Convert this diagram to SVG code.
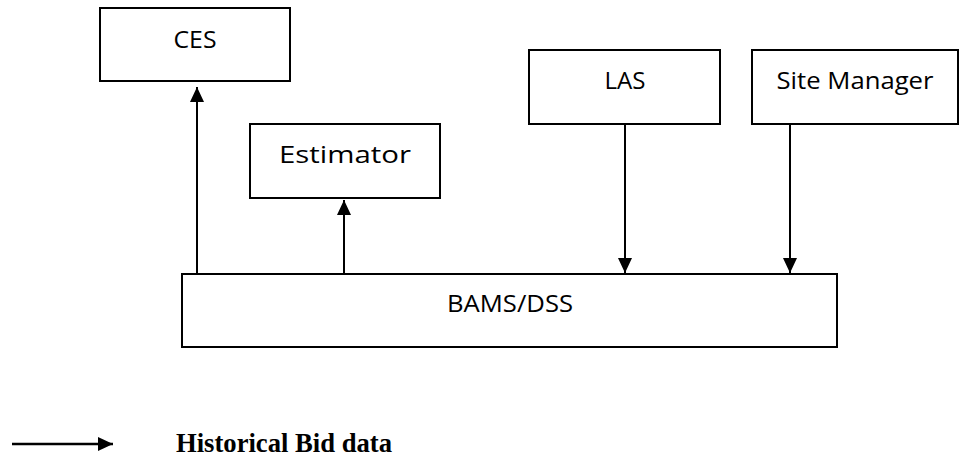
<svg xmlns="http://www.w3.org/2000/svg" width="961" height="457" viewBox="0 0 961 457">
<style>
.box{fill:#fff;stroke:#000;stroke-width:2}
.lbl{font-family:"Open Sans","Noto Sans",sans-serif;font-size:24px;fill:#000;text-anchor:middle}
.conn{stroke:#000;stroke-width:2;fill:none;marker-end:url(#ah)}
.legend{font-family:"Liberation Serif","Times New Roman",serif;font-weight:bold;font-size:28px;fill:#000}
</style>
<defs>
<marker id="ah" markerUnits="userSpaceOnUse" markerWidth="15" markerHeight="14" refX="15" refY="7" orient="auto">
<path d="M0,0 L15,7 L0,14 z" fill="#000"/>
</marker>
</defs>
<rect width="961" height="457" fill="#fff"/>
<g id="ces"><rect class="box" x="100" y="8" width="190" height="73"/><text class="lbl" x="195" y="48" textLength="43" lengthAdjust="spacingAndGlyphs">CES</text></g>
<g id="estimator"><rect class="box" x="250" y="124" width="190" height="74"/><text class="lbl" x="345" y="163" textLength="132" lengthAdjust="spacingAndGlyphs">Estimator</text></g>
<g id="las"><rect class="box" x="529" y="50" width="191" height="74"/><text class="lbl" x="625" y="89" textLength="41" lengthAdjust="spacingAndGlyphs">LAS</text></g>
<g id="site-manager"><rect class="box" x="752" y="50" width="206" height="74"/><text class="lbl" x="855" y="89" textLength="157" lengthAdjust="spacingAndGlyphs">Site Manager</text></g>
<g id="bams-dss"><rect class="box" x="182" y="274" width="655" height="73"/><text class="lbl" x="510" y="312" textLength="126" lengthAdjust="spacingAndGlyphs">BAMS/DSS</text></g>
<g id="connectors">
<line class="conn" x1="197" y1="273" x2="197" y2="87"/>
<line class="conn" x1="344" y1="273" x2="344" y2="200"/>
<line class="conn" x1="625" y1="125" x2="625" y2="273"/>
<line class="conn" x1="790" y1="125" x2="790" y2="273"/>
</g>
<g id="legend">
<line class="conn" style="stroke-width:2.5" x1="12" y1="444" x2="113" y2="444"/>
<text class="legend" x="176" y="452" textLength="216" lengthAdjust="spacingAndGlyphs">Historical Bid data</text>
</g>
</svg>
